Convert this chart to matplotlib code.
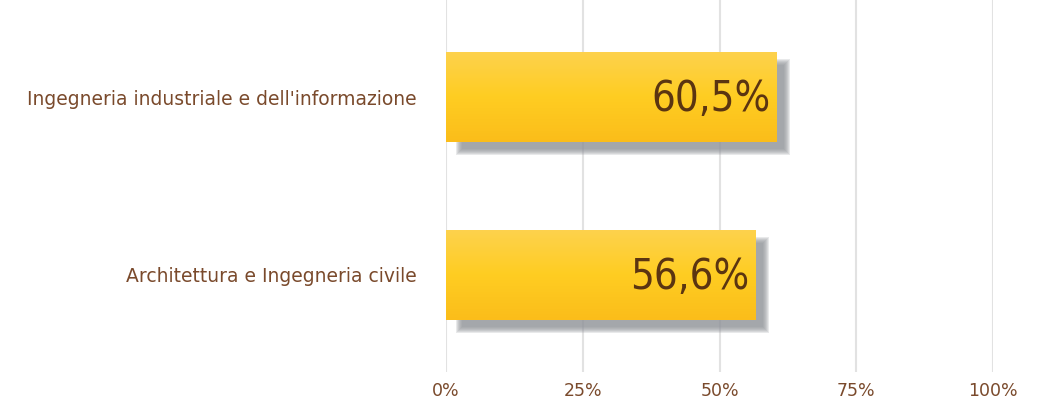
import matplotlib
matplotlib.use("Agg")
import matplotlib.pyplot as plt
import numpy as np
from matplotlib.colors import LinearSegmentedColormap

categories = ["Architettura e Ingegneria civile", "Ingegneria industriale e dell'informazione"]
values = [56.6, 60.5]
value_labels = ["56,6%", "60,5%"]
xticks = [0, 25, 50, 75, 100]
xtick_labels = ["0%", "25%", "50%", "75%", "100%"]

fig = plt.figure(figsize=(10.45, 4.03), dpi=100)
ax = fig.add_axes([446/1045, 31/403, 547/1045, 372/403])
ax.set_xlim(0, 100)
ax.set_ylim(-0.545, 1.545)

label_col = "#7a4a2c"
val_col = "#5b3511"
h = 0.506

cmap = LinearSegmentedColormap.from_list("g", ["#fdd24e", "#ffcd22", "#fbbd1a"])
grad = np.linspace(0, 1, 256).reshape(-1, 1)

for xv in xticks:
    ax.axvline(xv, color="#e2e2e2", lw=1.5, zorder=0)

px_x = 100 / 547.0
px_y = 2.09 / 372.0
for i, v in enumerate(values):
    # blurred shadow
    ox, oy = 10 * px_x, 10 * px_y
    for k in range(7):
        e = 3.0 - k          # from +3 px (outer) to -3 px (inner)
        ax.add_patch(plt.Rectangle((ox + 3 * px_x - e * px_x, i - h/2 - oy - e * px_y),
                                   v - 3 * px_x + 2 * e * px_x, h + 2 * e * px_y,
                                   color="#8e9197", alpha=0.2, lw=0, zorder=1))
    # gradient bar
    im = ax.imshow(grad, cmap=cmap, aspect="auto", extent=(0, v, i - h/2, i + h/2),
                   zorder=2, interpolation="bilinear")
    rect = plt.Rectangle((0, i - h/2), v, h, facecolor="none", edgecolor="none", zorder=2)
    ax.add_patch(rect)
    im.set_clip_path(rect)
    ax.text(v - 1.2, i - 0.01, value_labels[i], ha="right", va="center",
            fontsize=30, color=val_col, zorder=3, family="DejaVu Sans", fontstretch="condensed")

ax.set_xlim(0, 100)
ax.set_ylim(-0.545, 1.545)
ax.set_yticks(range(len(categories)))
ax.set_yticklabels(categories, fontsize=13.5, color=label_col)
ax.set_xticks(xticks)
ax.set_xticklabels(xtick_labels, fontsize=12.5, color=label_col)
ax.tick_params(axis="y", length=0, pad=21)
ax.tick_params(axis="x", length=0, pad=7)
for s in ax.spines.values():
    s.set_visible(False)

fig.savefig("out.png", dpi=100)
